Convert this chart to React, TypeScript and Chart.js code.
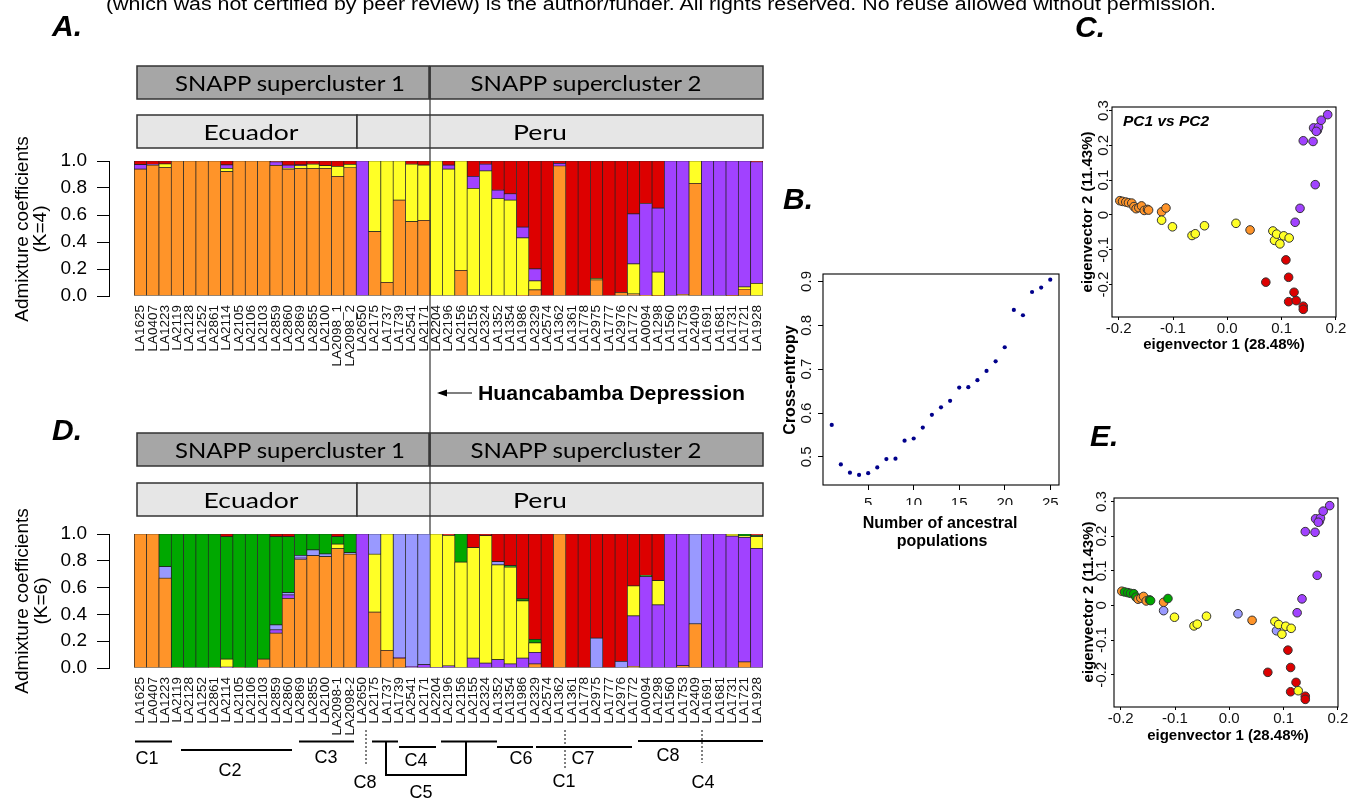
import React, { useEffect, useRef } from "react";
import { Chart, registerables } from "chart.js";

Chart.register(...registerables);

const FONT = "'Liberation Sans', Arial, Helvetica, sans-serif";
const BOX_FONT = "Lato, 'Open Sans', sans-serif";
Chart.defaults.font.family = FONT;

// ---------------- data ----------------
const samplesK4 = ["LA1625","LA0407","LA1223","LA2119","LA2128","LA1252","LA2861","LA2114","LA2105","LA2106","LA2103","LA2859","LA2860","LA2869","LA2855","LA2100","LA2098_1","LA2098_2","LA2650","LA2175","LA1737","LA1739","LA2541","LA2171","LA2204","LA2196","LA2156","LA2155","LA2324","LA1352","LA1354","LA1986","LA2329","LA2574","LA1362","LA1361","LA1778","LA2975","LA1777","LA2976","LA1772","LA0094","LA1298","LA1560","LA1753","LA2409","LA1691","LA1681","LA1731","LA1721","LA1928"];
const samplesK6 = ["LA1625","LA0407","LA1223","LA2119","LA2128","LA1252","LA2861","LA2114","LA2105","LA2106","LA2103","LA2859","LA2860","LA2869","LA2855","LA2100","LA2098-1","LA2098-2","LA2650","LA2175","LA1737","LA1739","LA2541","LA2171","LA2204","LA2196","LA2156","LA2155","LA2324","LA1352","LA1354","LA1986","LA2329","LA2574","LA1362","LA1361","LA1778","LA2975","LA1777","LA2976","LA1772","LA0094","LA1298","LA1560","LA1753","LA2409","LA1691","LA1681","LA1731","LA1721","LA1928"];

const admixTickValues = [0, 0.2, 0.4, 0.6, 0.8, 1.0];
const admixTickLabels = ["0.0", "0.2", "0.4", "0.6", "0.8", "1.0"];

// K = 4 (stack order bottom -> top: orange, yellow, purple, red)
const k4Orange = [0.94,0.97,0.953,1,1,1,1,0.921,1,1,1,0.968,0.94,0.946,0.946,0.946,0.886,0.95,0,0.477,0.101,0.711,0.551,0.56,
  0,0,0.19,0,0,0,0,0.005,0.045,0,0.963,0,0,0.119,0,0.027,0.015,0.005,0.003,0,0.012,0.834,0,0,0.003,0.05,0];
const k4Yellow = [0,0,0.025,0,0,0,0,0.025,0,0,0,0,0.005,0.02,0.03,0.02,0.074,0.025,0,0.523,0.899,0.289,0.425,0.41,
  1,0.94,0.81,0.797,0.926,0.722,0.71,0.425,0.067,0,0,0,0,0.012,0,0,0.223,0,0.174,0,0,0.166,0,0,0,0.017,0.094];
const k4Purple = [0.033,0.005,0,0,0,0,0,0.025,0,0,0,0.025,0.025,0.005,0,0,0,0,1,0,0,0,0,0,
  0,0.03,0,0.09,0.05,0.062,0.047,0.08,0.089,0,0.02,0,0,0,0,0,0.37,0.68,0.474,1,0.988,0,1,1,0.997,0.933,0.9];
const k4Red = [0.027,0.025,0.022,0,0,0,0,0.029,0,0,0,0.007,0.03,0.029,0.024,0.034,0.04,0.025,0,0,0,0,0.024,0.03,
  0,0.03,0,0.113,0.024,0.216,0.243,0.49,0.799,1,0.017,1,1,0.869,1,0.973,0.392,0.315,0.349,0,0,0,0,0,0,0,0.006];

// K = 6 (stack order bottom -> top: orange, purple, yellow, light blue, green, red)
const k6Orange = [1,1,0.67,0.004,0,0,0.004,0,0.004,0,0.067,0.26,0.52,0.81,0.839,0.831,0.89,0.849,0,0.417,0.132,0.074,0,0,
  0,0,0,0,0,0,0,0,0.03,0,1,0,0,0,0,0,0.012,0,0,0,0.017,0.33,0,0,0,0.045,0];
const k6Purple = [0,0,0,0,0,0,0,0.007,0,0,0,0.025,0.025,0.01,0,0,0,0,1,0,0,0.005,0.012,0.025,
  0.004,0.015,0,0.074,0.037,0.062,0.03,0.074,0.087,0,0,0,0,0,0,0,0.377,0.682,0.471,1,0.983,0,1,1,0.985,0.93,0.893];
const k6Yellow = [0,0,0,0,0,0,0,0.06,0,0,0,0,0,0,0,0,0.035,0,0,0.432,0.868,0,0,0,
  0.996,0.975,0.79,0.824,0.95,0.707,0.722,0.427,0.07,0,0,0,0,0,0,0,0.223,0,0.181,0,0,0,0,0,0.015,0.01,0.087];
const k6LightBlue = [0,0,0.087,0,0,0,0,0,0,0,0,0.037,0.017,0.02,0.042,0.02,0,0.012,0,0.151,0,0.921,0.988,0.975,
  0,0,0,0,0,0.025,0,0,0,0,0,0,0,0.223,0,0.05,0,0,0,0,0,0.67,0,0,0,0,0];
const k6Green = [0,0,0.243,0.996,1,1,0.996,0.913,0.996,1,0.933,0.658,0.418,0.16,0.119,0.149,0.055,0.139,0,0,0,0,0,0,
  0,0,0.21,0,0,0,0.012,0.015,0.027,0,0,0,0,0,0,0,0,0.01,0,0,0,0,0,0,0,0.015,0.01];
const k6Red = [0,0,0,0,0,0,0,0.02,0,0,0,0.02,0.02,0,0,0,0.02,0,0,0,0,0,0,0,
  0,0.01,0,0.102,0.013,0.206,0.236,0.484,0.786,1,0,1,1,0.777,1,0.95,0.388,0.308,0.348,0,0,0,0,0,0,0,0.01];

// Panel B
const ancestralK = [1,2,3,4,5,6,7,8,9,10,11,12,13,14,15,16,17,18,19,20,21,22,23,24,25];
const crossEntropy = [0.573,0.483,0.464,0.459,0.463,0.476,0.495,0.496,0.537,0.542,0.567,0.596,0.613,0.628,0.658,0.659,0.675,0.696,0.718,0.750,0.835,0.823,0.876,0.886,0.904];
const entropyXTicks = [5, 10, 15, 20, 25];
const entropyXLabels = ["5", "10", "15", "20", "25"];
const entropyYTicks = [0.5, 0.6, 0.7, 0.8, 0.9];
const entropyYLabels = ["0.5", "0.6", "0.7", "0.8", "0.9"];

// Panels C / E (PCA)
const pc1 = [-0.198,-0.193,-0.187,-0.182,-0.176,-0.172,-0.168,-0.163,-0.158,-0.153,-0.147,-0.145,-0.121,-0.113,0.042,
  -0.121,-0.101,-0.065,-0.059,-0.042,0.016,0.084,0.087,0.091,0.097,0.104,0.114,
  0.071,0.108,0.113,0.113,0.123,0.127,0.14,0.14,
  0.125,0.134,0.162,0.14,0.158,0.159,0.166,0.168,0.164,0.173,0.185];
const pc2 = [0.041,0.039,0.037,0.035,0.034,0.024,0.018,0.021,0.026,0.013,0.016,0.014,0.009,0.02,-0.043,
  -0.015,-0.034,-0.059,-0.054,-0.031,-0.024,-0.046,-0.073,-0.055,-0.083,-0.06,-0.066,
  -0.193,-0.129,-0.179,-0.249,-0.222,-0.246,-0.262,-0.271,
  -0.021,0.019,0.087,0.213,0.211,0.25,0.243,0.252,0.24,0.272,0.288];
const groupK4 = ["O","O","O","O","O","O","O","O","O","O","O","O","O","O","O",
  "Y","Y","Y","Y","Y","Y","Y","Y","Y","Y","Y","Y",
  "R","R","R","R","R","R","R","R",
  "P","P","P","P","P","P","P","P","P","P","P"];
const groupK6 = ["O","G","G","G","G","G","O","O","O","O","G","G","O","G","O",
  "L","Y","Y","Y","Y","L","Y","L","Y","Y","Y","Y",
  "R","R","R","R","R","Y","R","R",
  "P","P","P","P","P","P","P","P","P","P","P"];
const pcXTicks = [-0.2, -0.1, 0, 0.1, 0.2];
const pcXLabels = ["-0.2", "-0.1", "0.0", "0.1", "0.2"];
const pcYTicks = [-0.2, -0.1, 0, 0.1, 0.2, 0.3];
const pcYLabels = ["-0.2", "-0.1", "0", "0.1", "0.2", "0.3"];

const PALETTE: Record<string, string> = {
  O: "#FF9429", Y: "#FFFF26", R: "#DD0000", P: "#A142FF", G: "#00A800", L: "#9999FF",
};

// ---------------- plugins ----------------
const boxPlugin = {
  id: "rbox",
  afterDatasetsDraw(chart: any, _a: any, opts: any) {
    if (!opts || !opts.enabled) return;
    const { ctx, chartArea: a } = chart;
    ctx.save();
    ctx.strokeStyle = "#000";
    ctx.lineWidth = 1.1;
    ctx.strokeRect(a.left, a.top, a.right - a.left, a.bottom - a.top);
    ctx.restore();
  },
};
Chart.register(boxPlugin);

// ---------------- chart configs ----------------
function admixConfig(samples: string[], series: { data: number[]; color: string }[], pad: any) {
  return {
    type: "bar",
    data: {
      labels: samples.map((_, i) => i),
      datasets: series.map((s) => ({
        data: s.data,
        backgroundColor: s.color,
        borderColor: "#222",
        borderWidth: 0.7,
        borderSkipped: false,
        barPercentage: 1,
        categoryPercentage: 1,
      })),
    },
    options: {
      animation: false,
      responsive: false,
      events: [],
      layout: { padding: pad },
      plugins: { legend: { display: false }, tooltip: { enabled: false } },
      scales: {
        x: {
          type: "linear",
          stacked: true,
          offset: false,
          min: -2.552,
          max: 50.5,
          afterBuildTicks: (s: any) => { s.ticks = samples.map((_, i) => ({ value: i })); },
          afterFit: (s: any) => { s.height = 70; },
          grid: { display: false, drawTicks: false },
          border: { display: false },
          ticks: {
            autoSkip: false, minRotation: 90, maxRotation: 90, padding: 9,
            color: "#111", font: { size: 13.5, family: FONT },
            callback: (_v: any, i: number) => samples[i],
          },
        },
        y: {
          type: "linear",
          stacked: true,
          min: 0,
          max: 1,
          afterBuildTicks: (s: any) => { s.ticks = admixTickValues.map((v) => ({ value: v })); },
          afterFit: (s: any) => { s.width = 60; },
          grid: { drawOnChartArea: false, drawTicks: true, tickLength: 12, color: "#000", tickColor: "#000" },
          border: { display: true, color: "#000", width: 1 },
          ticks: {
            padding: 10, color: "#000", font: { size: 19, family: FONT },
            callback: (_v: any, i: number) => admixTickLabels[i],
          },
        },
      },
    },
  };
}

function entropyConfig() {
  return {
    type: "scatter",
    data: {
      datasets: [{
        data: ancestralK.map((k, i) => ({ x: k, y: crossEntropy[i] })),
        backgroundColor: "#00008B",
        borderColor: "#00008B",
        pointRadius: 2.1,
        borderWidth: 0,
      }],
    },
    options: {
      animation: false,
      responsive: false,
      events: [],
      layout: { padding: { left: 23, right: 21, top: 24, bottom: 15 } },
      plugins: { legend: { display: false }, tooltip: { enabled: false }, rbox: { enabled: true } },
      scales: {
        x: {
          type: "linear", min: 0.04, max: 25.96,
          afterBuildTicks: (s: any) => { s.ticks = entropyXTicks.map((v) => ({ value: v })); },
          afterFit: (s: any) => { s.height = 20; },
          grid: { display: true, drawOnChartArea: false, drawTicks: true, tickLength: 5, color: "#000", tickColor: "#000" },
          border: { display: false },
          ticks: { padding: 5, maxRotation: 0, autoSkip: false, color: "#111", font: { size: 15, family: FONT },
            callback: (_v: any, i: number) => entropyXLabels[i] },
        },
        y: {
          type: "linear", min: 0.436, max: 0.917,
          afterBuildTicks: (s: any) => { s.ticks = entropyYTicks.map((v) => ({ value: v })); },
          afterFit: (s: any) => { s.width = 40; },
          grid: { display: true, drawOnChartArea: false, drawTicks: true, tickLength: 5, color: "#000", tickColor: "#000" },
          border: { display: false },
          ticks: { padding: 0.6, minRotation: 90, maxRotation: 90, crossAlign: "center", color: "#111",
            font: { size: 15, family: FONT }, callback: (_v: any, i: number) => entropyYLabels[i] },
        },
      },
    },
  };
}

function pcaConfig(groups: string[], pad: any, yPad: number, xPad: number) {
  return {
    type: "scatter",
    data: {
      datasets: [{
        data: pc1.map((x, i) => ({ x, y: pc2[i] })),
        pointRadius: 4.3,
        pointBackgroundColor: groups.map((g) => PALETTE[g]),
        pointBorderColor: "#333",
        pointBorderWidth: 1,
      }],
    },
    options: {
      animation: false,
      responsive: false,
      events: [],
      layout: { padding: pad },
      plugins: { legend: { display: false }, tooltip: { enabled: false }, rbox: { enabled: true } },
      scales: {
        x: {
          type: "linear", min: -0.2124, max: 0.2003,
          afterBuildTicks: (s: any) => { s.ticks = pcXTicks.map((v) => ({ value: v })); },
          afterFit: (s: any) => { s.height = 20; },
          grid: { display: true, drawOnChartArea: false, drawTicks: true, tickLength: 3, color: "#000", tickColor: "#000" },
          border: { display: false },
          ticks: { padding: xPad, maxRotation: 0, autoSkip: false, color: "#111", font: { size: 15, family: FONT },
            callback: (_v: any, i: number) => pcXLabels[i] },
        },
        y: {
          type: "linear", min: -0.293, max: 0.31,
          afterBuildTicks: (s: any) => { s.ticks = pcYTicks.map((v) => ({ value: v })); },
          afterFit: (s: any) => { s.width = 30; },
          grid: { display: true, drawOnChartArea: false, drawTicks: true, tickLength: 3, color: "#000", tickColor: "#000" },
          border: { display: false },
          ticks: { padding: yPad, minRotation: 90, maxRotation: 90, crossAlign: "center", color: "#111",
            font: { size: 15, family: FONT }, callback: (_v: any, i: number) => pcYLabels[i] },
        },
      },
    },
  };
}

// ---------------- components ----------------
function ChartCanvas({ left, top, width, height, make }: any) {
  const ref = useRef<HTMLCanvasElement | null>(null);
  useEffect(() => {
    if (!ref.current) return;
    const chart = new Chart(ref.current, make() as any);
    return () => chart.destroy();
  }, []);
  return (
    <canvas ref={ref} width={width} height={height}
      style={{ position: "absolute", left, top, width, height }} />
  );
}

const VText = ({ x, y, size, bold, children }: any) => (
  <text transform={`translate(${x},${y}) rotate(-90)`} textAnchor="middle" dominantBaseline="central"
    fontSize={size} fontWeight={bold ? "bold" : "normal"}>{children}</text>
);

const CText = ({ x, y, size, bold, italic, len, family, children }: any) => (
  <text x={x} y={y} textAnchor="middle" dominantBaseline="central" fontSize={size}
    fontWeight={bold ? "bold" : "normal"} fontStyle={italic ? "italic" : "normal"}
    fontFamily={family} textLength={len} lengthAdjust={len ? "spacingAndGlyphs" : undefined}>{children}</text>
);

function HeaderBoxes({ y1, y2 }: { y1: number; y2: number }) {
  return (
    <g>
      <rect x={137} y={y1} width={292} height={33} fill="#A6A6A6" stroke="#333" strokeWidth={1.5} />
      <rect x={430} y={y1} width={333} height={33} fill="#A6A6A6" stroke="#333" strokeWidth={1.5} />
      <rect x={137} y={y2} width={220} height={33} fill="#E6E6E6" stroke="#333" strokeWidth={1.5} />
      <rect x={357} y={y2} width={406} height={33} fill="#E6E6E6" stroke="#333" strokeWidth={1.5} />
      <CText x={290} y={y1 + 16.5} size={22} family={BOX_FONT} len={230}>SNAPP supercluster 1</CText>
      <CText x={586} y={y1 + 16.5} size={22} family={BOX_FONT} len={231}>SNAPP supercluster 2</CText>
      <CText x={251} y={y2 + 16.5} size={22} family={BOX_FONT} len={95}>Ecuador</CText>
      <CText x={540} y={y2 + 16.5} size={22} family={BOX_FONT} len={54}>Peru</CText>
    </g>
  );
}

function Overlay() {
  const line = { stroke: "#000", strokeWidth: 2 };
  const dot = { stroke: "#000", strokeWidth: 1, strokeDasharray: "2,2" };
  return (
    <svg width={1362} height={801} style={{ position: "absolute", left: 0, top: 0, pointerEvents: "none" }}
      fontFamily={FONT}>
      <text x={106} y={10} fontSize={18} textLength={1110} lengthAdjust="spacingAndGlyphs">
        (which was not certified by peer review) is the author/funder. All rights reserved. No reuse allowed without permission.
      </text>
      {/* panel letters */}
      <text x={52} y={36} fontSize={30} fontWeight="bold" fontStyle="italic">A.</text>
      <text x={1075} y={37} fontSize={30} fontWeight="bold" fontStyle="italic">C.</text>
      <text x={783} y={209} fontSize={30} fontWeight="bold" fontStyle="italic">B.</text>
      <text x={52} y={440} fontSize={30} fontWeight="bold" fontStyle="italic">D.</text>
      <text x={1090} y={446} fontSize={30} fontWeight="bold" fontStyle="italic">E.</text>

      <HeaderBoxes y1={66} y2={115} />
      <HeaderBoxes y1={433} y2={483} />
      <line x1={430} y1={66} x2={430} y2={534} stroke="#333" strokeWidth={1.2} />

      {/* y-axis titles of A and D */}
      <VText x={21} y={229} size={19}>Admixture coefficients</VText>
      <VText x={39} y={229} size={19}>(K=4)</VText>
      <VText x={21} y={601} size={19}>Admixture coefficients</VText>
      <VText x={40} y={601} size={19}>(K=6)</VText>

      {/* Huancabamba */}
      <line x1={439} y1={393} x2={472} y2={393} stroke="#000" strokeWidth={1.2} />
      <path d="M437,393 L447,389.5 L447,396.5 Z" fill="#000" />
      <text x={478} y={400} fontSize={20.5} fontWeight="bold" textLength={267} lengthAdjust="spacingAndGlyphs">Huancabamba Depression</text>

      {/* Panel B titles */}
      <VText x={789} y={380} size={16} bold>Cross-entropy</VText>
      <CText x={940} y={522} size={16} bold>Number of ancestral</CText>
      <CText x={942} y={540} size={16} bold>populations</CText>

      {/* Panel C titles */}
      <text x={1123} y={126} fontSize={15.5} fontWeight="bold" fontStyle="italic">PC1 vs PC2</text>
      <VText x={1086} y={212} size={15} bold>eigenvector 2 (11.43%)</VText>
      <CText x={1224} y={343} size={15} bold>eigenvector 1 (28.48%)</CText>

      {/* Panel E titles */}
      <VText x={1087} y={602} size={15} bold>eigenvector 2 (11.43%)</VText>
      <CText x={1228} y={734} size={15} bold>eigenvector 1 (28.48%)</CText>

      {/* cluster annotation under D */}
      <line x1={135} y1={741.5} x2={172} y2={741.5} {...line} />
      <line x1={181} y1={750} x2={292} y2={750} {...line} />
      <line x1={299} y1={741.5} x2={354} y2={741.5} {...line} />
      <line x1={366} y1={730} x2={366} y2={764} {...dot} />
      <line x1={372} y1={741.5} x2={398} y2={741.5} {...line} />
      <polyline points="386,741.5 386,775 466,775 466,741.5" fill="none" {...line} />
      <line x1={441} y1={741.5} x2={497} y2={741.5} {...line} />
      <line x1={399} y1={747} x2={436} y2={747} {...line} />
      <line x1={497} y1={747} x2={533} y2={747} {...line} />
      <line x1={536} y1={747} x2={632} y2={747} {...line} />
      <line x1={565} y1={730} x2={565} y2={768} {...dot} />
      <line x1={638} y1={741} x2={763} y2={741} {...line} />
      <line x1={702} y1={730} x2={702} y2={763} {...dot} />

      <CText x={147} y={758} size={18}>C1</CText>
      <CText x={230} y={770} size={18}>C2</CText>
      <CText x={326} y={757} size={18}>C3</CText>
      <CText x={365} y={782} size={18}>C8</CText>
      <CText x={416} y={760} size={18}>C4</CText>
      <CText x={421} y={792} size={18}>C5</CText>
      <CText x={521} y={758} size={18}>C6</CText>
      <CText x={583} y={758} size={18}>C7</CText>
      <CText x={564} y={781} size={18}>C1</CText>
      <CText x={668} y={755} size={18}>C8</CText>
      <CText x={703} y={782} size={18}>C4</CText>
    </svg>
  );
}

export default function App() {
  const k4Series = [
    { data: k4Orange, color: PALETTE.O },
    { data: k4Yellow, color: PALETTE.Y },
    { data: k4Purple, color: PALETTE.P },
    { data: k4Red, color: PALETTE.R },
  ];
  const k6Series = [
    { data: k6Orange, color: PALETTE.O },
    { data: k6Purple, color: PALETTE.P },
    { data: k6Yellow, color: PALETTE.Y },
    { data: k6LightBlue, color: PALETTE.L },
    { data: k6Green, color: PALETTE.G },
    { data: k6Red, color: PALETTE.R },
  ];
  return (
    <div style={{ position: "fixed", left: 0, top: 0, width: 1362, height: 801, background: "#fff", overflow: "hidden" }}>
      <ChartCanvas left={0} top={130} width={790} height={260}
        make={() => admixConfig(samplesK4, k4Series, { left: 49, right: 27, top: 31, bottom: 24 })} />
      <ChartCanvas left={0} top={503} width={790} height={260}
        make={() => admixConfig(samplesK6, k6Series, { left: 49, right: 27, top: 31, bottom: 25 })} />
      <ChartCanvas left={760} top={250} width={320} height={270} make={() => entropyConfig()} />
      <ChartCanvas left={1060} top={90} width={300} height={270}
        make={() => pcaConfig(groupK4, { left: 22, right: 24, top: 17, bottom: 23 }, -7.4, 0)} />
      <ChartCanvas left={1060} top={480} width={300} height={270}
        make={() => pcaConfig(groupK6, { left: 24, right: 22, top: 18, bottom: 23 }, -3.9, 0)} />
      <Overlay />
    </div>
  );
}
